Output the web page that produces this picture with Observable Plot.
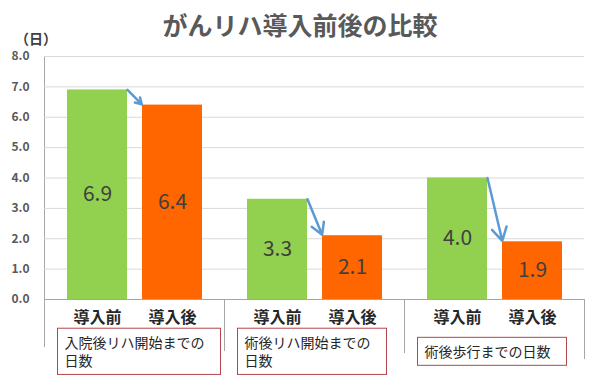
<!DOCTYPE html>
<html>
<head>
<meta charset="utf-8">
<script src="https://cdn.jsdelivr.net/npm/d3@7"></script>
<script src="https://cdn.jsdelivr.net/npm/@observablehq/plot@0.6"></script>
<style>
  html, body { margin: 0; padding: 0; background: #fff; }
  #wrap { position: relative; width: 600px; font-family: "Noto Sans CJK JP", "Noto Sans", sans-serif; }
  #title { height: 40px; padding-top: 4px; box-sizing: border-box; line-height: 40px; text-align: center; font-size: 25px; font-weight: bold; color: #595959; }
  #unit { position: absolute; left: 15px; top: 30px; font-size: 14px; line-height: 16px; font-weight: bold; color: #404040; }
  #chart svg { display: block; }
</style>
</head>
<body>
<div id="wrap">
  <div id="title">がんリハ導入前後の比較</div>
  <div id="unit">（日）</div>
  <div id="chart"></div>
</div>
<script>
// ---- data ----
const groups = ["入院後リハ開始までの\n日数", "術後リハ開始までの\n日数", "術後歩行までの日数"];
const phases = ["導入前", "導入後"];
const before = [6.9, 3.3, 4.0];
const after = [6.4, 2.1, 1.9];
const yTicks = [0, 1, 2, 3, 4, 5, 6, 7, 8];

const colors = ["#92D050", "#FF6600"];

const rows = groups.flatMap((g, i) => [
  {group: g, phase: phases[0], value: before[i]},
  {group: g, phase: phases[1], value: after[i]}
]);
const arrows = groups.map((g, i) => ({group: g, from: phases[0], to: phases[1], y1: before[i], y2: after[i]}));

const chart = Plot.plot({
  width: 600,
  height: 342,
  marginTop: 16,
  marginBottom: 83,
  marginLeft: 44,
  marginRight: 16,
  style: {fontFamily: "'Noto Sans CJK JP', 'Noto Sans', sans-serif", background: "#fff", overflow: "visible"},
  fx: {domain: groups, padding: 0, axis: null},
  x: {domain: phases, paddingInner: 0.2, paddingOuter: 0.3, axis: null},
  y: {domain: [0, 8], axis: null},
  color: {domain: phases, range: colors},
  marks: [
    Plot.gridY(yTicks, {stroke: "#d9d9d9", strokeOpacity: 1}),
    Plot.axisY(yTicks, {tickSize: 0, tickPadding: 15, tickFormat: d3.format(".1f"), fontSize: 12, fontWeight: "bold", fill: "#595959", label: null}),
    Plot.barY(rows, {fx: "group", x: "phase", y: "value", fill: "phase"}),
    Plot.ruleY([0], {stroke: "#a6a6a6"}),
    Plot.text(rows, {fx: "group", x: "phase", y: d => d.value / 2, text: d => d3.format(".1f")(d.value), fontSize: 21, fill: "#404040"}),
    Plot.arrow(arrows, {
      fx: "group", x1: "from", x2: "to", y1: "y1", y2: "y2",
      stroke: "#5B9BD5", strokeWidth: 2.5, headLength: 9, insetEnd: 1,
      render(index, scales, values, dimensions, context, next) {
        const h = scales.x.bandwidth() / 2;
        return next(index, scales, {...values, x1: Array.from(values.x1, v => v + h), x2: Array.from(values.x2, v => v - h)}, dimensions, context);
      }
    }),
    Plot.axisX({tickSize: 0, tickPadding: 12, fontSize: 16, fontWeight: "bold", fill: "#262626", label: null}),
    Plot.text(groups, {fx: d => d, text: d => d, frameAnchor: "bottom-left", dx: 20, dy: 52, textAnchor: "start", lineAnchor: "middle", lineHeight: 1.3, fontSize: 14, fill: "#262626"})
  ]
});

document.getElementById("chart").append(chart);

// category separators and left axis line, positioned with Plot's own scales
try {
  const fx = chart.scale("fx");
  const y = chart.scale("y");
  const y0 = y.apply(0), yTop = y.apply(8);
  const seps = [
    {x: fx.apply(groups[0]), y1: yTop, y2: y0 + 48},
    {x: fx.apply(groups[1]), y1: y0, y2: y0 + 52},
    {x: fx.apply(groups[2]), y1: y0, y2: y0 + 54},
    {x: fx.apply(groups[2]) + fx.bandwidth, y1: y0, y2: y0 + 60}
  ];
  const g = d3.select(chart).insert("g", "g").attr("stroke", "#a6a6a6").attr("aria-label", "separators");
  g.selectAll("line").data(seps).join("line")
    .attr("x1", d => Math.round(d.x) + 0.5).attr("x2", d => Math.round(d.x) + 0.5)
    .attr("y1", d => d.y1).attr("y2", d => d.y2);
} catch (e) { console.error(e); }

// boxes around the category labels
const svgNS = "http://www.w3.org/2000/svg";
const flat = new Set(groups.map(s => s.replace(/\n/g, "")));
Array.from(chart.querySelectorAll("text"))
  .filter(t => flat.has(t.textContent.replace(/\s/g, "")))
  .forEach(t => {
    const b = t.getBBox();
    const r = document.createElementNS(svgNS, "rect");
    const tr = t.getAttribute("transform");
    if (tr) r.setAttribute("transform", tr);
    r.setAttribute("x", b.x - 7);
    r.setAttribute("y", b.y - 4);
    r.setAttribute("width", b.width + 23);
    r.setAttribute("height", b.height + 8);
    r.setAttribute("fill", "#fff");
    r.setAttribute("stroke", "#b5474b");
    r.setAttribute("stroke-width", 1);
    t.parentNode.insertBefore(r, t);
  });
</script>
</body>
</html>
